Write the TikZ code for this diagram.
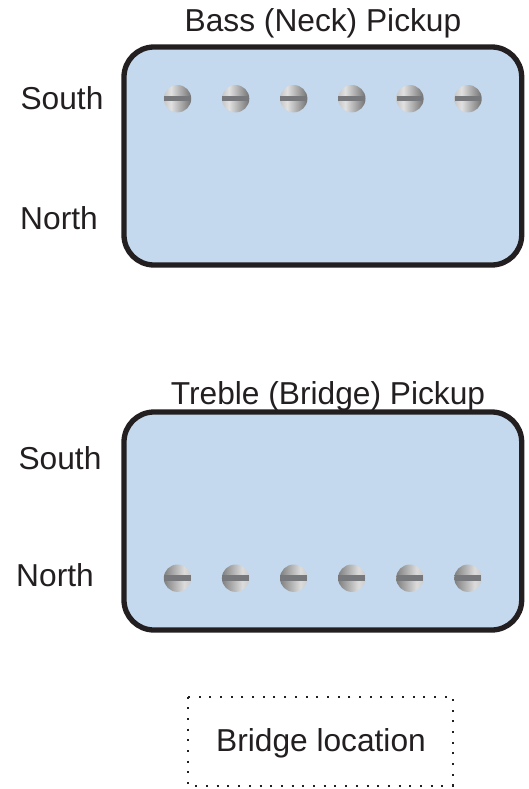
\documentclass[tikz,border=0pt]{standalone}
\usepackage{fontspec}
\setmainfont{Liberation Sans}
\definecolor{pickupfill}{HTML}{C4D8EE}
\definecolor{pickupline}{HTML}{231F20}
\definecolor{slotcol}{HTML}{77787B}
\pgfdeclarehorizontalshading{screwtop}{100bp}{
  color(0bp)=(black!22); color(25bp)=(black!22); color(38bp)=(black!12);
  color(75bp)=(black!55); color(100bp)=(black!55)}
\pgfdeclarehorizontalshading{screwbottom}{100bp}{
  color(0bp)=(black!50); color(25bp)=(black!50); color(62bp)=(black!14);
  color(75bp)=(black!20); color(100bp)=(black!20)}
\tikzset{
  pickupbox/.style={draw=pickupline,line width=5.3pt,fill=pickupfill,rounded corners=30pt},
  lbl/.style={inner sep=0pt,text=pickupline,font=\fontsize{31.7}{36}\selectfont},
  screwhead/.style={circle,inner sep=0pt,minimum size=27.4pt},
  slot/.style={fill=slotcol,draw=none}
}
\newcommand{\screw}[4]{%
  \node[screwhead,shading=#4] (s#3) at (#1,#2) {};
  \fill[slot] (#1-13.4,#2-2.8) rectangle (#1+13.4,#2+2.8);
}
\begin{document}
\begin{tikzpicture}[x=1pt,y=-1pt]
\useasboundingbox (0,0) rectangle (529,789);
\draw[pickupbox] (124,47) rectangle (521.7,265);
\draw[pickupbox] (124,412) rectangle (521.7,630);
\foreach \x [count=\i] in {177.5,235.6,293.7,351.8,409.9,468}{
  \screw{\x}{98.7}{a\i}{screwtop}
  \screw{\x}{578.2}{b\i}{screwbottom}
}
\node[lbl,anchor=base] (t1) at (323,32) {Bass (Neck) Pickup};
\node[lbl,anchor=base] (t2) at (328,404) {Treble (Bridge) Pickup};
\node[lbl,anchor=base] (s1) at (62,110) {South};
\node[lbl,anchor=base] (n1) at (59,229) {North};
\node[lbl,anchor=base] (s2) at (60,469) {South};
\node[lbl,anchor=base] (n2) at (55,586) {North};
\node[lbl,anchor=base] (br) at (321,751) {Bridge location};
\draw[pickupline,line width=2pt,dash pattern=on 2pt off 8.7pt] (188,696.5) rectangle (453,785.5);
\end{tikzpicture}
\end{document}
